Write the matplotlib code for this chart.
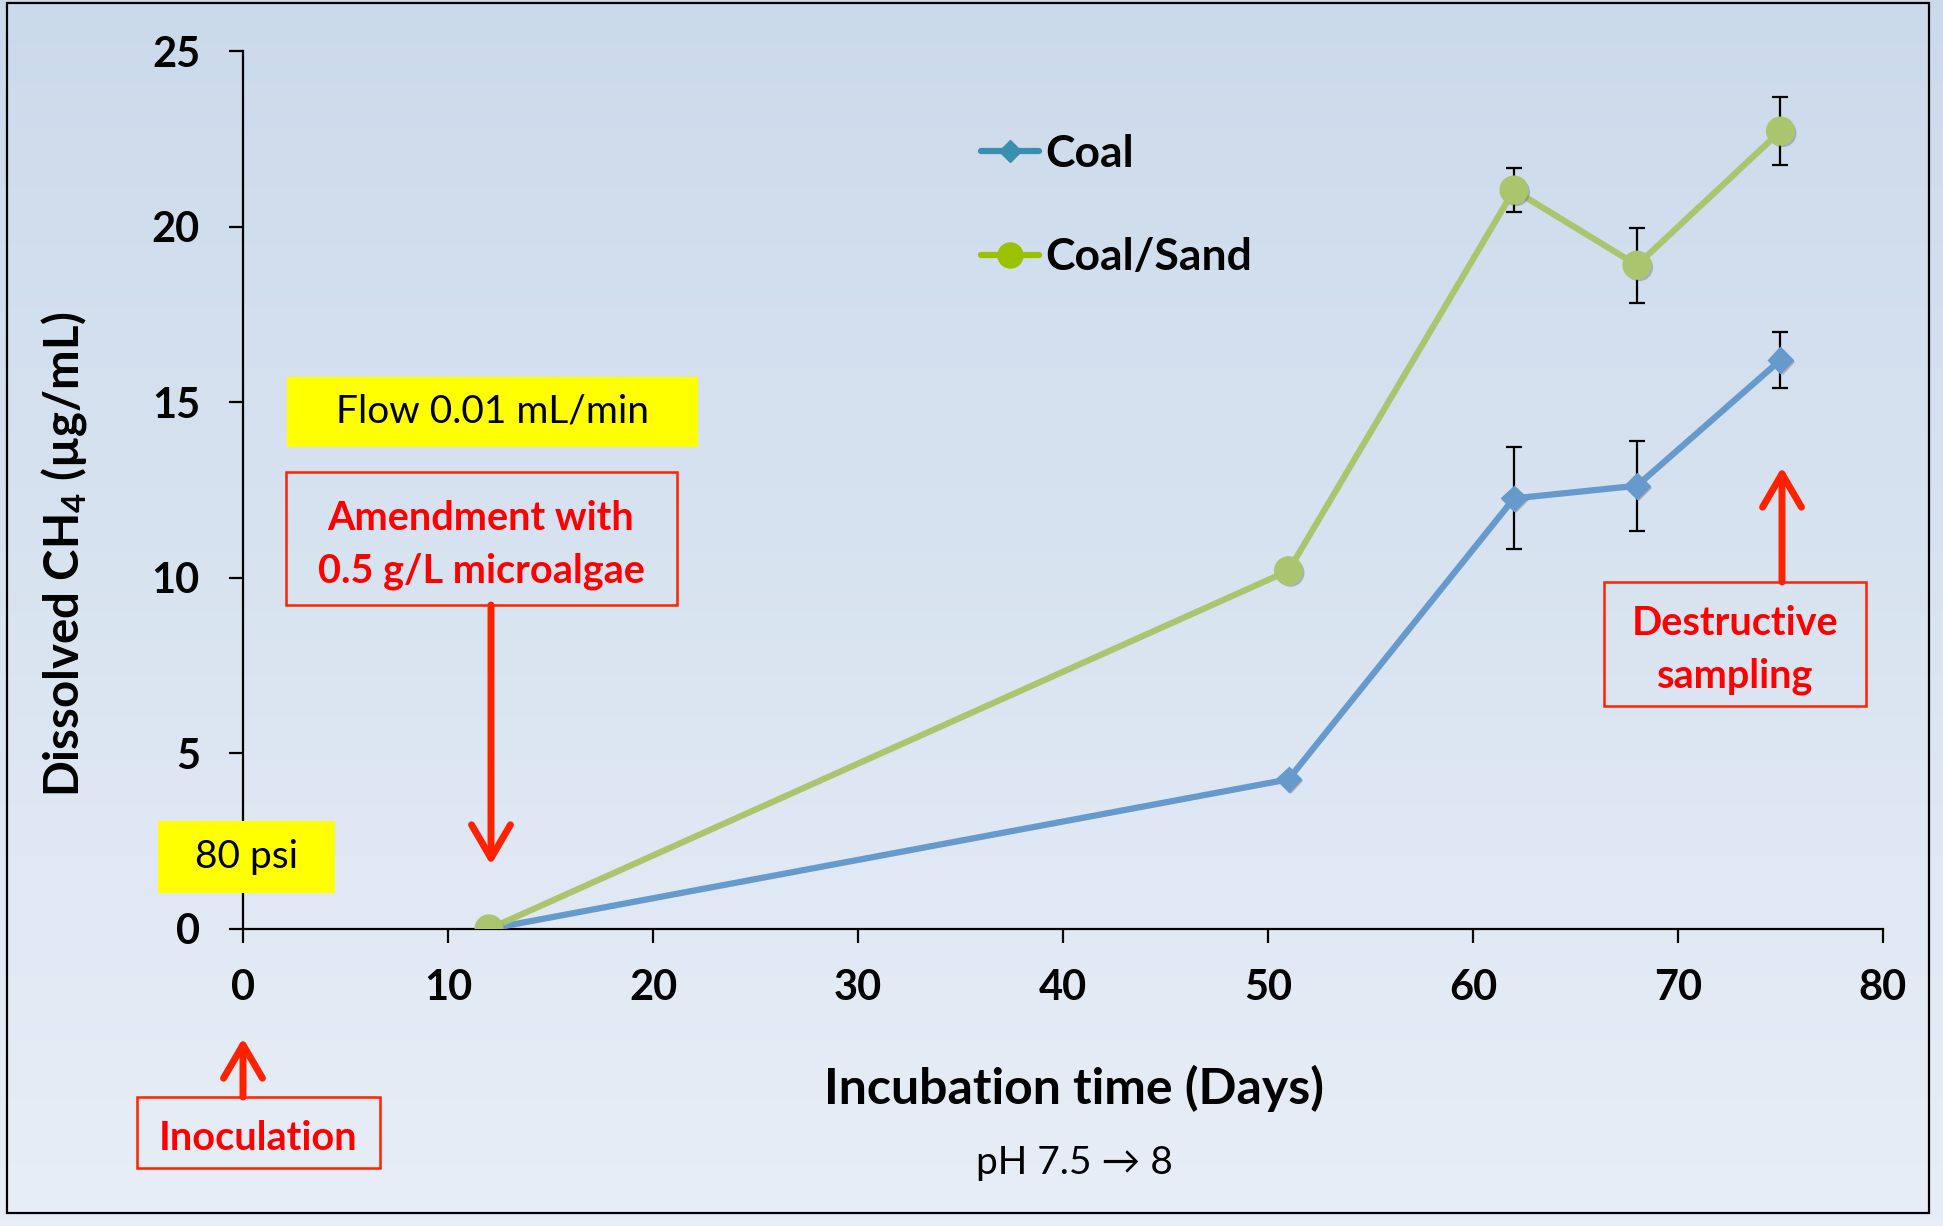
import numpy as np
import matplotlib
matplotlib.use('Agg')
import matplotlib.pyplot as plt
from matplotlib.patches import Rectangle, FancyArrowPatch
from matplotlib.lines import Line2D
from matplotlib.colors import LinearSegmentedColormap
import matplotlib.patheffects as pe

plt.rcParams['font.family'] = ['Lato', 'DejaVu Sans']
plt.rcParams['mathtext.fontset'] = 'custom'
plt.rcParams['mathtext.rm'] = 'Lato'
plt.rcParams['mathtext.bf'] = 'Lato:bold'

# data
days = [12, 51, 62, 68, 75]
coal = [0, 4.26, 12.26, 12.62, 16.2]
coal_err = [0, 0, 1.45, 1.28, 0.81]
coal_sand = [0, 10.2, 21.04, 18.9, 22.72]
coal_sand_err = [0, 0, 0.63, 1.07, 0.96]

x_ticks = [0, 10, 20, 30, 40, 50, 60, 70, 80]
y_ticks = [0, 5, 10, 15, 20, 25]

blue = '#6699cc'
green = '#abc56f'
red = '#ff2200'

W, H = 1943, 1226
fig = plt.figure(figsize=(W / 100, H / 100), dpi=100)

# background gradient + outer frame
bg = fig.add_axes([0, 0, 1, 1], zorder=-10)
grad = np.linspace(0, 1, 256).reshape(-1, 1)
cmap = LinearSegmentedColormap.from_list('bg', ['#cbdaeb', '#e8eef7'])
bg.imshow(grad, aspect='auto', cmap=cmap, extent=[0, 1, 0, 1], origin='upper')
bg.set_xlim(0, 1)
bg.set_ylim(0, 1)
bg.axis('off')
bg.add_patch(Rectangle((7 / W, 1 - 1213 / H), (1929 - 7) / W, (1213 - 3) / H,
                       fill=False, edgecolor='black', lw=1.6))

ax = fig.add_axes([0.1251, 0.2423, 0.8440, 0.7161])
ax.set_facecolor('none')

ax.errorbar(days, coal, yerr=coal_err, fmt='none', ecolor='black',
            elinewidth=1.6, capsize=6, capthick=1.6, zorder=2)
ax.errorbar(days, coal_sand, yerr=coal_sand_err, fmt='none', ecolor='black',
            elinewidth=1.6, capsize=6, capthick=1.6, zorder=2)

ax.plot(days, coal, color=blue, lw=4.5, zorder=3, solid_capstyle='round')
ax.plot(days, coal_sand, color=green, lw=4.5, zorder=3, solid_capstyle='round')

shadow = [pe.SimplePatchShadow(offset=(1.5, -1.5), shadow_rgbFace='#555555', alpha=0.35), pe.Normal()]
ax.plot(days, coal, ls='none', marker='D', ms=13, color=blue, mec=blue,
        zorder=4, path_effects=shadow)
ax.plot(days, coal_sand, ls='none', marker='o', ms=20, color=green, mec=green,
        zorder=4, path_effects=shadow)

ax.set_xlim(0, 80)
ax.set_ylim(0, 25)
ax.set_xticks(x_ticks)
ax.set_yticks(y_ticks)
for s in ['top', 'right']:
    ax.spines[s].set_visible(False)
for s in ['left', 'bottom']:
    ax.spines[s].set_linewidth(1.6)
ax.tick_params(axis='both', length=10, width=1.6, labelsize=30)
ax.tick_params(axis='y', pad=21)
ax.tick_params(axis='x', pad=19)
for lab in ax.get_xticklabels() + ax.get_yticklabels():
    lab.set_fontweight('bold')

ax.set_xlabel('Incubation time (Days)', fontsize=36, fontweight='bold')
ax.set_ylabel(r'Dissolved CH$_\mathbf{4}$ (µg/mL)', fontsize=34, fontweight='bold')
ax.xaxis.set_label_coords(0.507, -0.155)
ax.yaxis.set_label_coords(-0.094, 0.427)

# legend (colours differ slightly from the plotted series, as in the original)
handles = [
    Line2D([], [], color='#3a8fb0', lw=4.5, marker='D', ms=11, solid_capstyle='round'),
    Line2D([], [], color='#9bc100', lw=4.5, marker='o', ms=18, solid_capstyle='round'),
]
ax.legend(handles, ['Coal', 'Coal/Sand'], loc='upper left',
          bbox_to_anchor=(981 / W, 1 - 134 / H), bbox_transform=fig.transFigure,
          frameon=False, prop={'weight': 'bold', 'size': 32},
          handlelength=1.3, handletextpad=0.15, labelspacing=1.42,
          borderpad=0, borderaxespad=0)


def box(x0, y0, x1, y1, face, edge):
    fig.patches.append(Rectangle((x0 / W, 1 - y1 / H), (x1 - x0) / W, (y1 - y0) / H,
                                 transform=fig.transFigure, facecolor=face,
                                 edgecolor=edge, lw=1.8, zorder=5))


def arrow(x, y0, y1):
    fig.patches.append(FancyArrowPatch((x / W, 1 - y0 / H), (x / W, 1 - y1 / H),
                                       transform=fig.transFigure,
                                       arrowstyle='->,head_length=24,head_width=14',
                                       mutation_scale=1, color=red, lw=5,
                                       capstyle='round', joinstyle='round',
                                       shrinkA=0, shrinkB=0, zorder=6))


box(287, 377, 698, 447, '#ffff00', 'none')
fig.text(492 / W, 1 - 412 / H, 'Flow 0.01 mL/min', ha='center', va='center', fontsize=28, zorder=7)

box(158, 821, 335, 893, '#ffff00', 'none')
fig.text(246 / W, 1 - 857 / H, '80 psi', ha='center', va='center', fontsize=28, zorder=7)

box(286, 472, 677, 605, 'none', red)
fig.text(481 / W, 1 - 545 / H, 'Amendment with\n0.5 g/L microalgae', ha='center', va='center',
         fontsize=28.5, fontweight='bold', color='#ff0000', linespacing=1.5, zorder=7)
arrow(491, 605, 865)

box(1604, 582, 1866, 706, 'none', red)
fig.text(1735 / W, 1 - 650 / H, 'Destructive\nsampling', ha='center', va='center',
         fontsize=28.5, fontweight='bold', color='#ff0000', linespacing=1.5, zorder=7)
arrow(1782, 582, 467)

box(137, 1097, 380, 1168, 'none', red)
fig.text(258 / W, 1 - 1139 / H, 'Inoculation', ha='center', va='center',
         fontsize=28.5, fontweight='bold', color='#ff0000', zorder=7)
arrow(243, 1097, 1038)

fig.text(1074 / W, 1 - 1163 / H, 'pH 7.5 → 8', ha='center', va='center', fontsize=28, zorder=7)

fig.savefig('out.png', dpi=100)
